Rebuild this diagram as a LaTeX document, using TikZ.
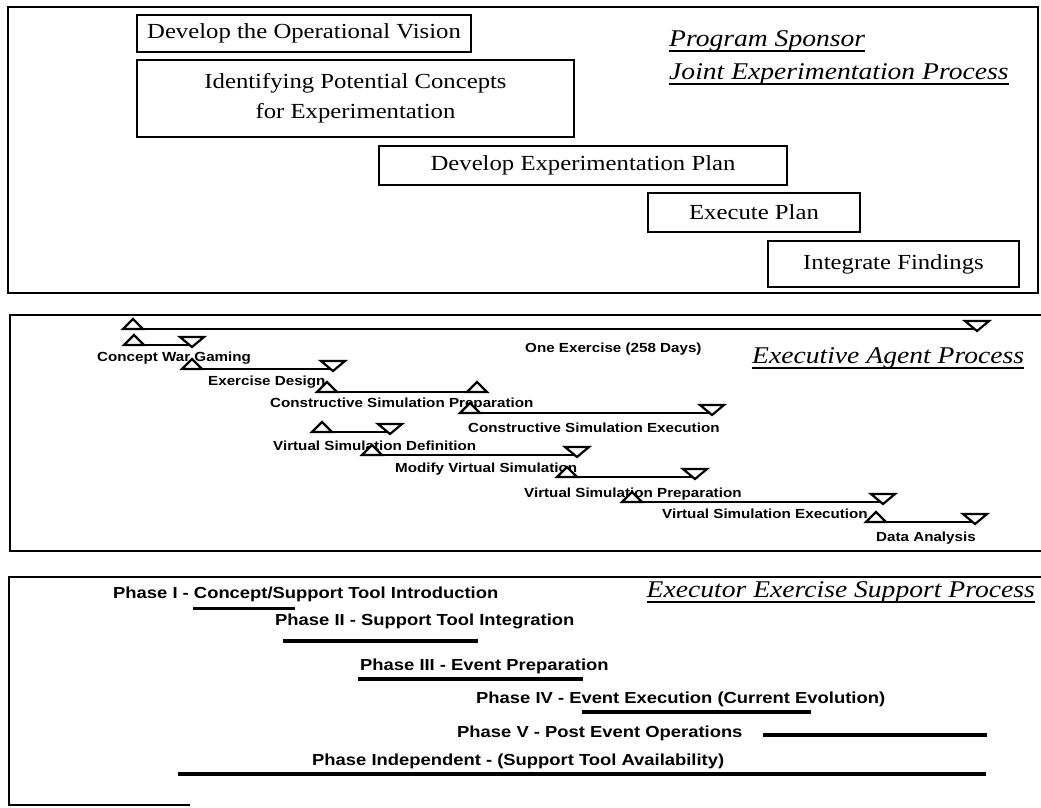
\documentclass[tikz,border=0pt]{standalone}
\usepackage{fontspec}
\setmainfont{Liberation Serif}[FakeStretch=1.15]
\newfontfamily\ganttfont{Liberation Sans}[FakeStretch=1.15]
\usetikzlibrary{positioning}
\tikzset{
  panel/.style={line width=2pt},
  taskbox/.style={draw, line width=1.8pt, fill=white, inner sep=0pt, align=center,
    font=\fontsize{21.5}{30}\selectfont},
  headtext/.style={inner sep=0pt, font=\fontsize{24}{28}\selectfont\itshape},
  ganttbar/.style={line width=2.6pt},
  ganttlabel/.style={inner sep=0pt, anchor=base west,
    font=\ganttfont\bfseries\fontsize{13.2}{15}\selectfont},
  phaselabel/.style={inner sep=0pt, anchor=base west,
    font=\ganttfont\bfseries\fontsize{16}{18}\selectfont},
  phasebar/.style={line width=4pt},
  startmark/.pic={\draw[line width=2.2pt, fill=white] (-10,0) -- (0,-10) -- (10,0) -- cycle;},
  endmark/.pic={\draw[line width=2.2pt, fill=white] (-12,-8) -- (12,-8) -- (0,2) -- cycle;},
}
\begin{document}
\begin{tikzpicture}[x=1pt, y=-1pt]

  \useasboundingbox (0,0) rectangle (1041,807);

  %% program sponsor
  \draw[panel] (8,7) rectangle (1038,293);
  \node[taskbox, minimum width=334pt, minimum height=37pt] (vision) at (304,33.5)
    {Develop the Operational Vision};
  \node[taskbox, minimum width=437pt, minimum height=77pt] (concepts) at (355.5,98.5)
    {Identifying Potential Concepts\\for Experimentation};
  \node[taskbox, minimum width=408pt, minimum height=39pt] (plan) at (583,165.5)
    {Develop Experimentation Plan};
  \node[taskbox, minimum width=212pt, minimum height=39pt] (execute) at (754,212.5)
    {Execute Plan};
  \node[taskbox, minimum width=251pt, minimum height=46pt] (findings) at (893.5,264)
    {Integrate Findings};

  \node[headtext, anchor=base west] (sponsor) at (669,46) {Program Sponsor};
  \node[headtext, anchor=base west] (joint) at (669,79) {Joint Experimentation Process};
  \draw[line width=1.2pt] ([yshift=-5pt]sponsor.base west) -- ([yshift=-5pt]sponsor.base east);
  \draw[line width=1.2pt] ([yshift=-5pt]joint.base west) -- ([yshift=-5pt]joint.base east);

  %% executive agent
  \draw[panel] (1041,315) -- (10,315) -- (10,551) -- (1041,551);
  \node[headtext, anchor=base west] (agent) at (752,363) {Executive Agent Process};
  \draw[line width=1.2pt] ([yshift=-5pt]agent.base west) -- ([yshift=-5pt]agent.base east);

  \node[ganttlabel] (oneL) at (525,352) {One Exercise (258 Days)};
  \node[ganttlabel] (cwgL) at (97,361) {Concept War Gaming};
  \node[ganttlabel] (edL) at (208,385) {Exercise Design};
  \node[ganttlabel] (cspL) at (270,407) {Constructive Simulation Preparation};
  \node[ganttlabel] (cseL) at (468,432) {Constructive Simulation Execution};
  \node[ganttlabel] (vsdL) at (273,450) {Virtual Simulation Definition};
  \node[ganttlabel] (mvsL) at (395,472) {Modify Virtual Simulation};
  \node[ganttlabel] (vspL) at (524,497) {Virtual Simulation Preparation};
  \node[ganttlabel] (vseL) at (662,518) {Virtual Simulation Execution};
  \node[ganttlabel] (daL) at (876,541) {Data Analysis};

  \coordinate (oneA) at (133,329);  \coordinate (oneB) at (977,329);
  \coordinate (cwgA) at (134,345);  \coordinate (cwgB) at (192,345);
  \coordinate (edA) at (192,369);   \coordinate (edB) at (333,369);
  \coordinate (cspA) at (327,392);  \coordinate (cspB) at (477,392);
  \coordinate (cseA) at (470,413);  \coordinate (cseB) at (712,413);
  \coordinate (vsdA) at (322,432);  \coordinate (vsdB) at (390,432);
  \coordinate (mvsA) at (372,455);  \coordinate (mvsB) at (577,455);
  \coordinate (vspA) at (567,477);  \coordinate (vspB) at (695,477);
  \coordinate (vseA) at (632,502);  \coordinate (vseB) at (883,502);
  \coordinate (daA) at (876,522);   \coordinate (daB) at (975,522);

  \draw[ganttbar] (oneA) -- (oneB);
  \draw[ganttbar] (cwgA) -- (cwgB);
  \draw[ganttbar] (edA) -- (edB);
  \draw[ganttbar] (cspA) -- (cspB);
  \draw[ganttbar] (cseA) -- (cseB);
  \draw[ganttbar] (vsdA) -- (vsdB);
  \draw[ganttbar] (mvsA) -- (mvsB);
  \draw[ganttbar] (vspA) -- (vspB);
  \draw[ganttbar] (vseA) -- (vseB);
  \draw[ganttbar] (daA) -- (daB);

  \pic at (oneA) {startmark};  \pic at (oneB) {endmark};
  \pic at (cwgA) {startmark};  \pic at (cwgB) {endmark};
  \pic at (edA) {startmark};   \pic at (edB) {endmark};
  \pic at (cspA) {startmark};  \pic at (cspB) {startmark};
  \pic at (cseA) {startmark};  \pic at (cseB) {endmark};
  \pic at (vsdA) {startmark};  \pic at (vsdB) {endmark};
  \pic at (mvsA) {startmark};  \pic at (mvsB) {endmark};
  \pic at (vspA) {startmark};  \pic at (vspB) {endmark};
  \pic at (vseA) {startmark};  \pic at (vseB) {endmark};
  \pic at (daA) {startmark};   \pic at (daB) {endmark};

  %% executor
  \draw[panel] (1041,577) -- (9,577) -- (9,805) -- (190,805);
  \node[headtext, anchor=base east] (executor) at (1035,597) {Executor Exercise Support Process};
  \draw[line width=1.2pt] ([yshift=-5pt]executor.base west) -- ([yshift=-5pt]executor.base east);

  \node[phaselabel] (ph1) at (113,598) {Phase I - Concept/Support Tool Introduction};
  \node[phaselabel] (ph2) at (275,625) {Phase II - Support Tool Integration};
  \node[phaselabel] (ph3) at (360,670) {Phase III - Event Preparation};
  \node[phaselabel] (ph4) at (476,703) {Phase IV - Event Execution (Current Evolution)};
  \node[phaselabel] (ph5) at (457,737) {Phase V - Post Event Operations};
  \node[phaselabel] (ph6) at (312,765) {Phase Independent - (Support Tool Availability)};

  \coordinate (ph1A) at (193,608);  \coordinate (ph1B) at (295,608);
  \coordinate (ph2A) at (283,641);  \coordinate (ph2B) at (478,641);
  \coordinate (ph3A) at (358,679);  \coordinate (ph3B) at (583,679);
  \coordinate (ph4A) at (582,712);  \coordinate (ph4B) at (811,712);
  \coordinate (ph5A) at (763,735);  \coordinate (ph5B) at (987,735);
  \coordinate (ph6A) at (178,774);  \coordinate (ph6B) at (986,774);

  \draw[phasebar, line width=3pt] (ph1A) -- (ph1B);
  \draw[phasebar] (ph2A) -- (ph2B);
  \draw[phasebar] (ph3A) -- (ph3B);
  \draw[phasebar] (ph4A) -- (ph4B);
  \draw[phasebar] (ph5A) -- (ph5B);
  \draw[phasebar] (ph6A) -- (ph6B);

\end{tikzpicture}
\end{document}
